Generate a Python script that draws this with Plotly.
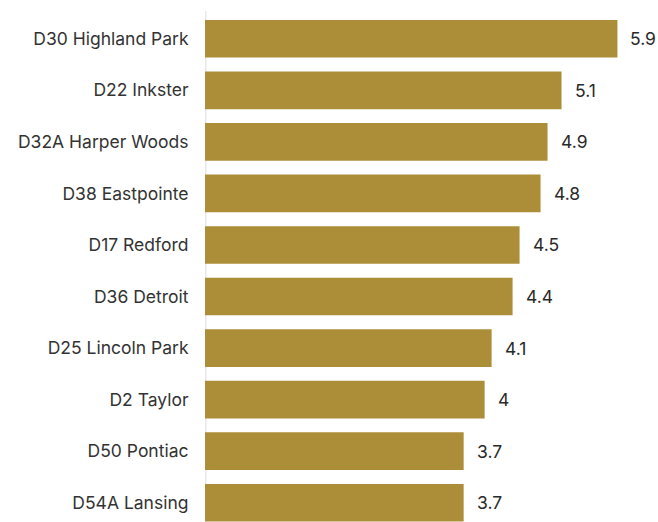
import plotly.graph_objects as go

districts = ["D30 Highland Park", "D22 Inkster", "D32A Harper Woods", "D38 Eastpointe",
             "D17 Redford", "D36 Detroit", "D25 Lincoln Park", "D2 Taylor",
             "D50 Pontiac", "D54A Lansing"]
values = [5.9, 5.1, 4.9, 4.8, 4.5, 4.4, 4.1, 4.0, 3.7, 3.7]
value_labels = ["5.9", "5.1", "4.9", "4.8", "4.5", "4.4", "4.1", "4", "3.7", "3.7"]

BAR = "#AD8E38"
FONT = "Inter, 'Open Sans', sans-serif"

fig = go.Figure(go.Bar(
    x=values, y=districts, orientation="h",
    marker=dict(color=BAR, line=dict(width=0)),
    hoverinfo="skip",
))

for d, v, lab in zip(districts, values, value_labels):
    fig.add_annotation(x=v, y=d, text=lab, showarrow=False, xanchor="left",
                       xshift=11, font=dict(family=FONT, size=17.5, color="#2a2a2a"))

fig.add_shape(type="line", xref="x", yref="paper", x0=0, x1=0, y0=0, y1=1,
              line=dict(color="#e8e8e8", width=3), layer="below")

fig.update_layout(
    width=658, height=522,
    margin=dict(l=205, r=0, t=11, b=0),
    paper_bgcolor="white", plot_bgcolor="white",
    bargap=0.27,
    showlegend=False,
    xaxis=dict(range=[0, 6.48], visible=False, fixedrange=True),
    yaxis=dict(categoryorder="array", categoryarray=districts,
               range=[9.374, -0.539], showgrid=False, zeroline=False,
               showline=False, ticks="outside", ticklen=12, tickcolor="rgba(0,0,0,0)",
               tickfont=dict(family=FONT, size=17.5, color="#333333")),
)

fig.write_html("out.html")
